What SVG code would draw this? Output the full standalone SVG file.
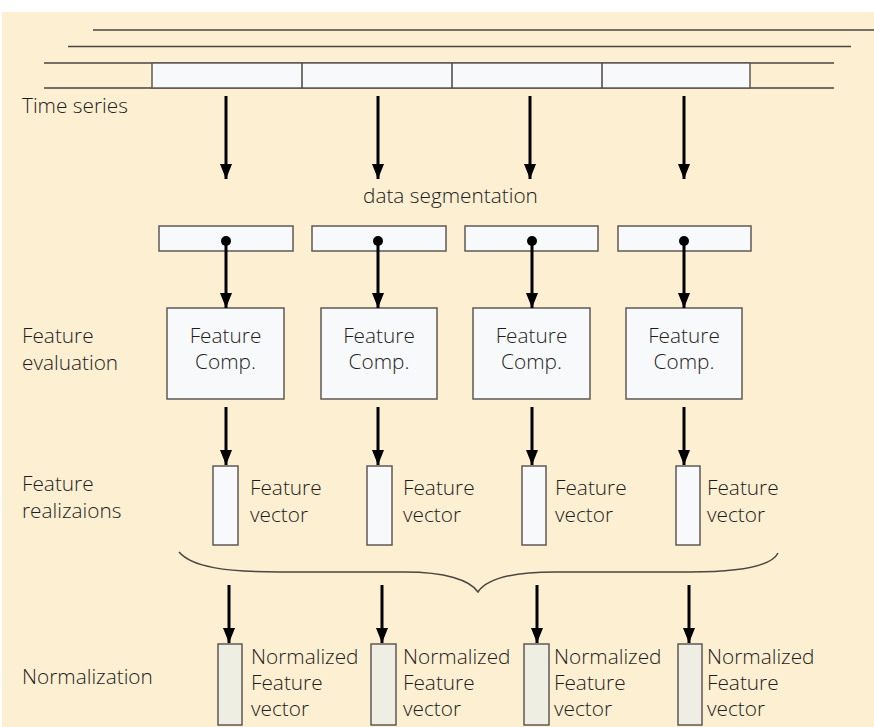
<svg xmlns="http://www.w3.org/2000/svg" width="874" height="727" viewBox="0 0 874 727">
<defs>
<style>
.t{font-family:"Open Sans","Liberation Sans",sans-serif;font-size:20.8px;fill:#1f1c1c;font-weight:300}
.box{fill:#f8f9fb;stroke:#5f5a55;stroke-width:1.5}
.nbox{fill:#eeeee2;stroke:#5f5a55;stroke-width:1.5}
.ln{stroke:#4a4540;stroke-width:1.5;fill:none}
.ar{stroke:#000;stroke-width:3;fill:none;marker-end:url(#ah)}
</style>
<marker id="ah" markerWidth="15" markerHeight="12" refX="15" refY="6" orient="auto" markerUnits="userSpaceOnUse" viewBox="0 0 15 12">
<path d="M0,0 L15,6 L0,12 Z" fill="#000"/>
</marker>
</defs>
<rect x="0" y="0" width="874" height="727" fill="#ffffff"/>
<rect x="2" y="12" width="872" height="715" fill="#fcefd2"/>

<g id="time-series">
<line class="ln" x1="93" y1="30" x2="874" y2="30"/>
<line class="ln" x1="68" y1="46.5" x2="851" y2="46.5"/>
<line class="ln" x1="44" y1="63" x2="834" y2="63"/>
<line class="ln" x1="44" y1="88" x2="834" y2="88"/>
<rect class="box" x="152" y="63" width="598" height="25"/>
<line class="ln" x1="302" y1="63" x2="302" y2="88"/>
<line class="ln" x1="452" y1="63" x2="452" y2="88"/>
<line class="ln" x1="602" y1="63" x2="602" y2="88"/>
<text class="t" x="22" y="113">Time series</text>
</g>

<g id="label-segmentation"><text class="t" x="363" y="203">data segmentation</text></g>
<g id="label-evaluation"><text class="t" x="22" y="343">Feature</text><text class="t" x="22" y="370">evaluation</text></g>
<g id="label-realizations"><text class="t" x="22" y="491">Feature</text><text class="t" x="22" y="518">realizaions</text></g>
<g id="label-normalization"><text class="t" x="22" y="684">Normalization</text></g>

<g id="segments">
<rect class="box" x="159" y="226" width="134" height="25"/>
<rect class="box" x="312" y="226" width="134" height="25"/>
<rect class="box" x="465" y="226" width="133" height="25"/>
<rect class="box" x="618" y="226" width="133" height="25"/>
</g>

<g id="comp1"><rect class="box" x="167" y="308" width="117" height="91"/><text class="t" x="225.5" y="343" text-anchor="middle">Feature</text><text class="t" x="225.5" y="369" text-anchor="middle">Comp.</text></g>
<g id="comp2"><rect class="box" x="321" y="308" width="116" height="91"/><text class="t" x="379" y="343" text-anchor="middle">Feature</text><text class="t" x="379" y="369" text-anchor="middle">Comp.</text></g>
<g id="comp3"><rect class="box" x="473" y="308" width="117" height="91"/><text class="t" x="531.5" y="343" text-anchor="middle">Feature</text><text class="t" x="531.5" y="369" text-anchor="middle">Comp.</text></g>
<g id="comp4"><rect class="box" x="626" y="308" width="116" height="91"/><text class="t" x="684" y="343" text-anchor="middle">Feature</text><text class="t" x="684" y="369" text-anchor="middle">Comp.</text></g>

<g id="fv1"><rect class="box" x="213" y="466" width="25" height="79"/><text class="t" x="250" y="495">Feature</text><text class="t" x="250" y="522">vector</text></g>
<g id="fv2"><rect class="box" x="367" y="466" width="25" height="79"/><text class="t" x="403" y="495">Feature</text><text class="t" x="403" y="522">vector</text></g>
<g id="fv3"><rect class="box" x="522" y="466" width="24" height="79"/><text class="t" x="555" y="495">Feature</text><text class="t" x="555" y="522">vector</text></g>
<g id="fv4"><rect class="box" x="676" y="466" width="24" height="79"/><text class="t" x="707" y="495">Feature</text><text class="t" x="707" y="522">vector</text></g>

<g id="nfv1"><rect class="nbox" x="218" y="644" width="24" height="81"/><text class="t" x="251" y="664">Normalized</text><text class="t" x="251" y="690">Feature</text><text class="t" x="251" y="716">vector</text></g>
<g id="nfv2"><rect class="nbox" x="371" y="644" width="25" height="81"/><text class="t" x="403" y="664">Normalized</text><text class="t" x="403" y="690">Feature</text><text class="t" x="403" y="716">vector</text></g>
<g id="nfv3"><rect class="nbox" x="524" y="644" width="25" height="81"/><text class="t" x="554" y="664">Normalized</text><text class="t" x="554" y="690">Feature</text><text class="t" x="554" y="716">vector</text></g>
<g id="nfv4"><rect class="nbox" x="678" y="644" width="24" height="81"/><text class="t" x="707" y="664">Normalized</text><text class="t" x="707" y="690">Feature</text><text class="t" x="707" y="716">vector</text></g>

<g id="connectors">
<line class="ar" x1="226" y1="96" x2="226" y2="179"/>
<line class="ar" x1="378" y1="96" x2="378" y2="179"/>
<line class="ar" x1="530" y1="96" x2="530" y2="179"/>
<line class="ar" x1="684" y1="96" x2="684" y2="179"/>

<circle cx="226" cy="241" r="5" fill="#000"/>
<circle cx="378" cy="241" r="5" fill="#000"/>
<circle cx="532" cy="241" r="5" fill="#000"/>
<circle cx="684" cy="241" r="5" fill="#000"/>
<line class="ar" x1="226" y1="241" x2="226" y2="308"/>
<line class="ar" x1="378" y1="241" x2="378" y2="308"/>
<line class="ar" x1="532" y1="241" x2="532" y2="308"/>
<line class="ar" x1="684" y1="241" x2="684" y2="308"/>

<line class="ar" x1="226" y1="407" x2="226" y2="465"/>
<line class="ar" x1="378" y1="407" x2="378" y2="465"/>
<line class="ar" x1="532" y1="407" x2="532" y2="465"/>
<line class="ar" x1="684" y1="407" x2="684" y2="465"/>

<path class="ln" d="M179,552 C192,567 225,572 280,572 L405,572 C445,572 470,580 478,592 C486,580 510,572 555,572 L690,572 C745,572 772,565 778,553"/>

<line class="ar" x1="229" y1="585" x2="229" y2="643"/>
<line class="ar" x1="382" y1="585" x2="382" y2="643"/>
<line class="ar" x1="537" y1="585" x2="537" y2="643"/>
<line class="ar" x1="689" y1="585" x2="689" y2="643"/>
</g>
</svg>
